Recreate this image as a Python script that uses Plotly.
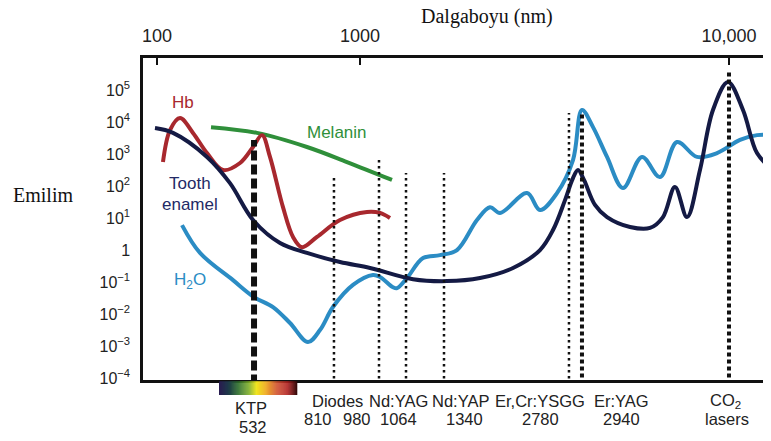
import numpy as np
import plotly.graph_objects as go

# Schematic x-position (0-100 across the plot) and log10(absorption)
enamel_x = [1.91, 4.78, 10.19, 13.85, 17.52, 21.82, 26.11, 31.37, 36.15, 42.99,
            48.41, 53.66, 58.92, 63.22, 65.29, 67.20, 68.47, 69.27, 70.22, 71.97,
            73.89, 77.55, 80.73, 82.80, 84.71, 86.62, 88.69, 90.76, 93.15, 95.54,
            97.77, 100]
enamel_log = [3.81, 3.66, 2.91, 2.09, 0.94, 0.22, -0.09, -0.375, -0.56, -0.91,
              -0.97, -0.875, -0.56, 0.0, 0.625, 1.56, 2.25, 2.5, 2.19, 1.41,
              1.03, 0.72, 0.69, 1.03, 1.97, 1.03, 2.5, 4.375, 5.25, 4.375,
              3.03, 2.56]

hb_x = [3.18, 4.30, 5.89, 7.96, 10.19, 12.74, 15.45, 17.52, 18.95, 20.22,
        22.29, 23.89, 25.32, 27.71, 31.37, 35.67, 37.74, 39.33]
hb_log = [2.75, 3.75, 4.125, 3.66, 3.03, 2.5, 2.72, 3.22, 3.59, 2.91,
          1.34, 0.41, 0.09, 0.41, 0.94, 1.19, 1.16, 1.0]

melanin_x = [10.83, 18.15, 26.11, 32.48, 39.65]
melanin_log = [3.84, 3.66, 3.22, 2.75, 2.19]

water_x = [6.21, 9.08, 14.33, 17.68, 20.70, 23.41, 26.27, 28.18, 30.25, 33.44,
           36.62, 37.74, 39.81, 40.45, 42.04, 44.59, 47.29, 50.0, 53.18, 55.25,
           56.85, 61.15, 63.22, 65.92, 68.47, 69.90, 71.66, 73.89, 76.43, 79.46,
           82.32, 85.03, 88.22, 91.40, 95.06, 97.77, 100]
water_log = [0.78, -0.09, -0.94, -1.47, -1.78, -2.28, -2.875, -2.5, -1.78, -1.09,
             -0.78, -0.84, -1.16, -1.19, -0.875, -0.25, -0.16, 0.0, 0.94, 1.34,
             1.16, 1.78, 1.25, 1.78, 2.81, 4.375, 3.84, 2.91, 1.94, 2.91,
             2.28, 3.375, 2.91, 3.03, 3.44, 3.59, 3.59]

laser_names = ["KTP 532", "Diode 810", "Diode 980", "Nd:YAG 1064", "Nd:YAP 1340",
               "Er,Cr:YSGG 2780", "Er:YAG 2940", "CO2"]
laser_x = [17.68, 30.41, 37.58, 41.88, 47.93, 67.83, 69.90, 93.31]
laser_top_log = [3.44, 2.34, 2.875, 2.41, 2.41, 4.28, 4.28, 5.56]

top_tick_vals = [2.23, 34.55, 93.31]
top_tick_text = ["100", "1000", "10,000"]

y_tick_exp = [-4, -3, -2, -1, 0, 1, 2, 3, 4, 5]
y_tick_text = ["10<sup>\u22124</sup>", "10<sup>\u22123</sup>", "10<sup>\u22122</sup>",
               "10<sup>\u22121</sup>", "1", "10<sup>1</sup>", "10<sup>2</sup>",
               "10<sup>3</sup>", "10<sup>4</sup>", "10<sup>5</sup>"]

NAVY = "#141a44"
RED = "#a8282e"
GREEN = "#2f8f3a"
BLUE = "#2b8cc4"
SANS = "Liberation Sans, Arial, sans-serif"
SERIF = "Liberation Serif, Times New Roman, serif"

# page body has an 8px default margin; plot box in page px: x 143..771, y 58..380
OFF = 8
PLOT_TOP = 58 - OFF
PLOT_BOTTOM = 380 - OFF

fig = go.Figure()

def curve(x, logs, color):
    fig.add_trace(go.Scatter(
        x=x, y=[10 ** v for v in logs], mode="lines",
        line=dict(color=color, width=4, shape="spline", smoothing=1.0),
        hoverinfo="skip", showlegend=False))

curve(melanin_x, melanin_log, GREEN)
curve(water_x, water_log, BLUE)
curve(hb_x, hb_log, RED)
curve(enamel_x, enamel_log, NAVY)

for i, (lx, lt) in enumerate(zip(laser_x, laser_top_log)):
    if i == 0:
        ln = dict(color="#111111", width=6, dash="10px,4px")
    elif laser_names[i] in ("Er:YAG 2940", "CO2"):
        ln = dict(color="#111111", width=4, dash="4px,3px")
    else:
        ln = dict(color="#111111", width=2.5, dash="2.5px,3.5px")
    fig.add_trace(go.Scatter(x=[lx, lx], y=[10 ** -4.2, 10 ** lt], mode="lines",
                             line=ln, hoverinfo="skip", showlegend=False))

# visible spectrum bar under KTP
stops = [(0.0, (42, 26, 80)), (0.12, (30, 58, 74)), (0.25, (45, 110, 42)),
         (0.38, (122, 171, 40)), (0.48, (240, 228, 28)), (0.6, (240, 176, 48)),
         (0.75, (208, 80, 48)), (0.88, (176, 32, 32)), (1.0, (48, 8, 8))]
bar_u0, bar_u1 = 12.10, 24.52
nseg = 80
shapes = []
for k in range(nseg):
    t = (k + 0.5) / nseg
    for j in range(len(stops) - 1):
        if stops[j][0] <= t <= stops[j + 1][0]:
            a, ca = stops[j]
            b, cb = stops[j + 1]
            f = (t - a) / (b - a)
            c = tuple(int(round(ca[m] + (cb[m] - ca[m]) * f)) for m in range(3))
            break
    u0 = bar_u0 + (bar_u1 - bar_u0) * k / nseg
    u1 = bar_u0 + (bar_u1 - bar_u0) * (k + 1) / nseg
    shapes.append(dict(type="rect", xref="paper", yref="paper",
                       x0=u0 / 100, x1=u1 / 100 + 0.0005, y0=-0.0466, y1=-0.004,
                       fillcolor="rgb(%d,%d,%d)" % c, line=dict(width=0), layer="above"))

annotations = []
def lab(text, u, logy, color, size=17):
    annotations.append(dict(text=text, x=u, y=logy, xref="x", yref="y",
                            showarrow=False, font=dict(family=SANS, size=size, color=color),
                            xanchor="center", yanchor="middle"))

lab("Hb", 6.37, 4.625, RED)
lab("Melanin", 30.89, 3.66, GREEN)
lab("Tooth", 7.48, 2.09, "#232a66")
lab("enamel", 7.48, 1.41, "#232a66")
lab("H<sub>2</sub>O", 7.48, -0.97, BLUE)

def blab(text, u, py, size=16.5):
    annotations.append(dict(text=text, x=u, y=0, xref="x", yref="paper",
                            yshift=380 - py, showarrow=False,
                            font=dict(family=SANS, size=size, color="#222222"),
                            xanchor="center", yanchor="middle"))

blab("KTP", 17.20, 408)
blab("532", 17.52, 427)
blab("Diodes", 31.05, 401)
blab("810", 27.87, 419)
blab("980", 34.08, 419)
blab("Nd:YAG", 40.61, 401)
blab("1064", 40.76, 419)
blab("Nd:YAP", 50.48, 401)
blab("1340", 51.27, 419)
blab("Er,Cr:YSGG", 63.22, 401)
blab("2780", 63.22, 419)
blab("Er:YAG", 76.27, 401)
blab("2940", 76.27, 419)
blab("CO<sub>2</sub>", 92.68, 401)
blab("lasers", 92.99, 419)

annotations.append(dict(text="Dalgaboyu (nm)", xref="paper", yref="paper",
                        x=0.548, y=1.128, showarrow=False, xanchor="center", yanchor="middle",
                        font=dict(family=SERIF, size=20, color="#111111")))
annotations.append(dict(text="Emilim", xref="paper", yref="paper",
                        x=-0.159, y=0.5745, showarrow=False, xanchor="center", yanchor="middle",
                        font=dict(family=SERIF, size=20, color="#111111")))

fig.update_layout(
    width=771 - OFF, height=441 - OFF,
    margin=dict(l=143 - OFF, r=0, t=PLOT_TOP, b=441 - OFF - PLOT_BOTTOM, autoexpand=False),
    paper_bgcolor="white", plot_bgcolor="white",
    shapes=shapes, annotations=annotations,
    xaxis=dict(range=[0, 100], side="top", tickmode="array",
               tickvals=top_tick_vals, ticktext=top_tick_text,
               ticks="inside", ticklen=7, tickwidth=2, tickcolor="#111111",
               showline=True, linewidth=2.5, linecolor="#111111", mirror=True,
               showgrid=False, zeroline=False, ticklabelstandoff=6,
               tickfont=dict(family=SANS, size=18, color="#222222")),
    yaxis=dict(type="log", range=[-4.06, 6.0], tickmode="array",
               tickvals=[10 ** e for e in y_tick_exp], ticktext=y_tick_text,
               ticks="outside", ticklen=7, tickcolor="rgba(0,0,0,0)",
               showline=True, linewidth=2.5, linecolor="#111111",
               showgrid=False, zeroline=False,
               tickfont=dict(family=SANS, size=16, color="#222222")),
)

fig.write_html("out.html", config={"displayModeBar": False})
